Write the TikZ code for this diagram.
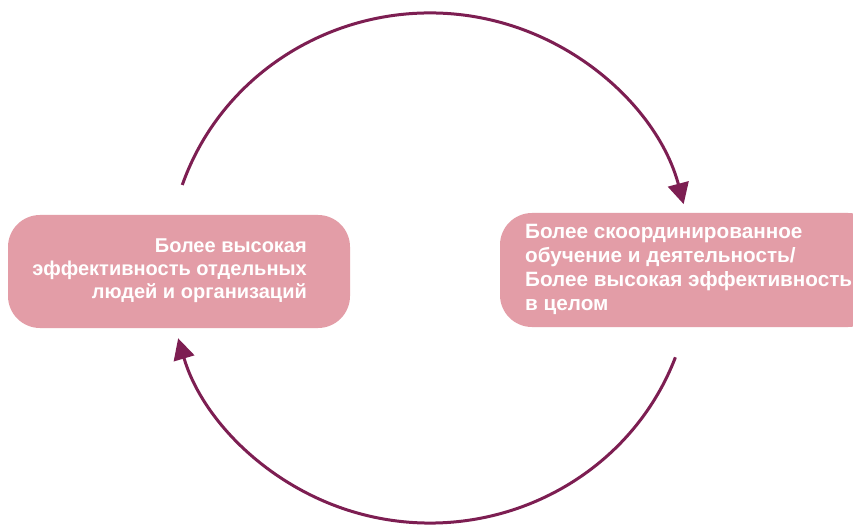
\documentclass[tikz,border=0pt]{standalone}
\usepackage{fontspec}
\setmainfont{Liberation Sans}
\usetikzlibrary{arrows.meta}
\definecolor{boxpink}{RGB}{227,157,167}
\definecolor{arcplum}{RGB}{125,30,82}
\tikzset{
  x=1pt, y=1pt,
  pinkbox/.style={fill=boxpink, draw=none, rounded corners=32pt, inner sep=0pt},
  boxtext/.style={text=white, font=\fontsize{20}{23}\selectfont\bfseries, inner sep=0pt},
  cyclearrow/.style={draw=arcplum, line width=3pt, -{Triangle[length=21pt,width=21pt]}}
}
\begin{document}
\begin{tikzpicture}
\clip (0,0) rectangle (853,528);
\fill[white] (0,0) rectangle (853,528);
% boxes
\node[pinkbox, minimum width=342pt, minimum height=113pt] (leftbox) at (179,256.5) {};
\node[pinkbox, minimum width=380pt, minimum height=114pt] (rightbox) at (690,258) {};
\node[boxtext, align=right, anchor=east] (lefttext) at (307,257.5)
  {Более высокая\\эффективность отдельных\\людей и организаций};
\node[boxtext, align=left, anchor=west, font=\fontsize{20.7}{24}\selectfont\bfseries] (righttext) at (525,258.5)
  {Более скоординированное\\обучение и деятельность/\\Более высокая эффективность\\в целом};
% cycle centre
\coordinate (cyc) at (430,260);
\coordinate (topstart) at ([shift={(161:262pt and 255pt)}]cyc);
\coordinate (botstart) at ([shift={(-20.5:262pt and 255pt)}]cyc);
\draw[cyclearrow] (topstart) arc[start angle=161, end angle=14.5, x radius=262pt, y radius=255pt];
\draw[cyclearrow] (botstart) arc[start angle=-20.5, end angle=-164, x radius=262pt, y radius=255pt];
\end{tikzpicture}
\end{document}
